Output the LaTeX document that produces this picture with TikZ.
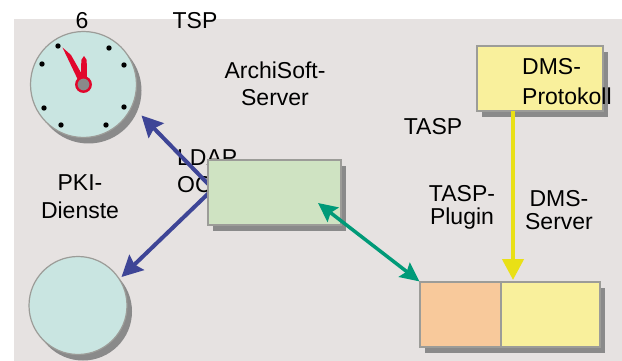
\documentclass[tikz,border=0pt]{standalone}
\usepackage{xcolor}
\usepackage{fontspec}
\setmainfont{Liberation Sans}
\usetikzlibrary{arrows.meta,shadows}

\definecolor{paneback}{HTML}{E6E2E1}
\definecolor{shadowgray}{HTML}{8A8A8A}
\definecolor{edgegray}{HTML}{9C9C98}
\definecolor{dialfill}{HTML}{C9E5E1}
\definecolor{serverfill}{HTML}{CFE3C2}
\definecolor{protofill}{HTML}{F9F09C}
\definecolor{pluginfill}{HTML}{F8C99B}
\definecolor{ldapblue}{HTML}{3E4596}
\definecolor{taspgreen}{HTML}{009A78}
\definecolor{dmsyellow}{HTML}{E9E016}
\definecolor{handred}{HTML}{E2062C}

\tikzset{
  boxshadow/.style={copy shadow={draw=none,fill=shadowgray,opacity=1,
      shadow xshift=5pt,shadow yshift=-6pt}},
  box/.style={draw=edgegray,line width=1.2pt,inner sep=0pt,boxshadow},
  disc/.style={circle,draw=edgegray,fill=dialfill,line width=1.2pt,
      inner sep=0pt,boxshadow},
  label/.style={font=\fontsize{23}{27}\selectfont,inner sep=0pt,align=center},
  ldaparrow/.style={draw=ldapblue,line width=4pt,
      -{Stealth[length=21pt,width=21pt,inset=3pt]}},
  taspline/.style={draw=taspgreen,line width=3.5pt,
      {Stealth[length=19pt,width=18pt,inset=3pt]}-{Stealth[length=19pt,width=18pt,inset=3pt]}},
  dmsline/.style={draw=dmsyellow,line width=4.3pt,
      -{Triangle[length=21pt,width=21pt]}}
}

\begin{document}
\begin{tikzpicture}[x=1pt,y=-1pt]
  \useasboundingbox (0,0) rectangle (622,361);
  \fill[paneback] (14,19) rectangle (622,361);

  \node[label] (six) at (82,21) {6};
  \node[label] (tsp) at (195,21) {TSP};
  \node[label] (archisoft) at (275,84) {ArchiSoft-\\Server};
  \node[label] (tasp) at (433,127) {TASP};
  \node[label] (pki) at (80,197) {PKI-\\[1pt]Dienste};
  \node[label,align=left,anchor=west] (ldap) at (177,171) {LDAP\\OC};
  \node[label] (plugin) at (462,207) {TASP-\\[-4pt]Plugin};
  \node[label] (dmsserver) at (559,210) {DMS-\\[-4pt]Server};

  % clock
  \node[disc,minimum size=106pt] (clock) at (83.5,84.5) {};
  \foreach \dotx/\doty in {58/46,109/48,124/65,124/107,106/125,61/125,44/108,42/64}
    \fill (\dotx,\doty) circle (2.7pt);
  \fill[handred] (62.5,47.5) -- (71,55) -- (84,78) -- (78.5,81) -- cycle;
  \fill[handred] (84,56) -- (86.7,60) -- (87,80) -- (81,80) -- (81.3,60) -- cycle;
  \filldraw[draw=handred,fill=shadowgray,line width=2.4pt] (clock.center) circle (7.2pt);

  \node[disc,minimum size=98pt] (pkidisc) at (78,305.5) {};

  \coordinate (ldapfork) at (213,189);
  \coordinate (clocktip) at (141.5,115.5);
  \coordinate (pkitip) at (121.5,277);
  \draw[ldaparrow] (ldapfork) -- (clocktip);
  \draw[ldaparrow] (ldapfork) -- (pkitip);

  \node[box,fill=serverfill,minimum width=133pt,minimum height=65pt] (server) at (274.5,192.5) {};
  \node[box,fill=protofill,minimum width=126pt,minimum height=65pt] (dmsbox) at (540,78.5) {};
  \node[label,align=left,anchor=west] (dmsproto) at (522,82) {DMS-\\[3pt]Protokoll};

  \node[box,fill=pluginfill,minimum width=81pt,minimum height=65pt] (pluginbox) at (460.5,314.5) {};
  \node[box,fill=protofill,minimum width=99pt,minimum height=65pt] (dmsplug) at (550.5,314.5) {};

  \coordinate (servertip) at (318,203);
  \draw[taspline] (servertip) -- (pluginbox.north west);
  \coordinate (dmstop) at (513,111);
  \coordinate (dmsdrop) at (513,280);
  \draw[dmsline] (dmstop) -- (dmsdrop);
\end{tikzpicture}
\end{document}
